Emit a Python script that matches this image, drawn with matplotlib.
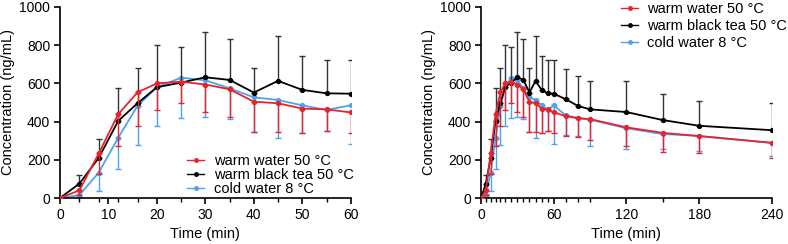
import matplotlib.pyplot as plt
from matplotlib.lines import Line2D
import numpy as np

plt.rcParams['font.family'] = ['Liberation Sans', 'DejaVu Sans']
plt.rcParams['font.size'] = 10

# Zeitpunkte (min)
zeit = [0, 4, 8, 12, 16, 20, 25, 30, 35, 40, 45, 50, 55, 60, 70, 80, 90, 120, 150, 180, 240]

# Mittelwerte (ng/mL)
warm_wasser = [0, 40, 233, 438, 553, 600, 609, 594, 569, 504, 496, 468, 464, 448, 429, 417, 413, 370, 341, 324, 289]
schwarztee = [0, 75, 210, 403, 496, 580, 604, 632, 618, 552, 613, 566, 548, 546, 517, 482, 464, 450, 408, 378, 355]
kalt_wasser = [0, 15, 133, 315, 482, 580, 630, 616, 574, 527, 513, 485, 461, 485, 432, 420, 410, 365, 335, 325, 288]

# Standardabweichungen
sd_warm_wasser = [0, 26, 109, 165, 178, 141, 112, 146, 147, 157, 149, 127, 112, 107, 105, 100, 107, 97, 99, 91, 82]
sd_schwarztee = [0, 44, 100, 173, 184, 219, 186, 237, 216, 129, 236, 178, 175, 176, 159, 154, 151, 163, 137, 132, 142]
sd_kalt_wasser = [0, 10, 96, 161, 202, 202, 211, 194, 162, 180, 198, 144, 109, 203, 100, 95, 137, 109, 80, 80, 70]

rot = '#e8232b'
blau = '#4ea3ec'

fig = plt.figure(figsize=(7.88, 2.44), dpi=100)
ax1 = fig.add_axes([0.0761, 0.1885, 0.369, 0.783])
ax2 = fig.add_axes([0.6104, 0.1885, 0.369, 0.783])

for ax, tmax in [(ax1, 60), (ax2, 240)]:
    n = sum(1 for t in zeit if t <= tmax)
    t = zeit[:n]
    null = np.zeros(n)
    ax.errorbar(t, kalt_wasser[:n], yerr=[sd_kalt_wasser[:n], null], color=blau, marker='o',
                markersize=2.8, lw=1.3, elinewidth=1.0, capsize=2.5, ecolor=blau, zorder=2)
    ax.errorbar(t, schwarztee[:n], yerr=[null, sd_schwarztee[:n]], color='black', marker='o',
                markersize=2.8, lw=1.3, elinewidth=1.0, capsize=2.5, ecolor='#333333', zorder=3)
    ax.errorbar(t, warm_wasser[:n], yerr=[sd_warm_wasser[:n], null], color=rot, marker='o',
                markersize=2.8, lw=1.3, elinewidth=1.0, capsize=2.5, ecolor=rot, zorder=4)

    ax.set_ylim(0, 1000)
    ax.set_xlim(0, tmax)
    ax.set_yticks(range(0, 1001, 200))
    ax.set_xticks(t, minor=True)
    ax.spines['top'].set_visible(False)
    ax.spines['right'].set_visible(False)
    ax.spines['left'].set_linewidth(1.2)
    ax.spines['bottom'].set_linewidth(1.2)
    ax.tick_params(width=1.2, length=4, pad=3)
    ax.tick_params(which='minor', width=1.0, length=3)
    ax.set_xlabel('Time (min)', labelpad=4, fontsize=10.5)
    ax.set_ylabel('Concentration (ng/mL)', labelpad=3, fontsize=10.5)
    for sp in ax.spines.values():
        sp.set_clip_on(False)

ax1.set_xticks(range(0, 61, 10))
ax2.set_xticks(range(0, 241, 60))

# Legenden
griffe = [Line2D([], [], color=rot, marker='o', markersize=2.5, lw=1.0),
          Line2D([], [], color='black', marker='o', markersize=2.5, lw=1.0),
          Line2D([], [], color=blau, marker='o', markersize=2.5, lw=1.0)]
namen = ['warm water 50 °C', 'warm black tea 50 °C', 'cold water 8 °C']

fig.legend(griffe, namen, loc='upper left', bbox_to_anchor=(0.2373, 0.368),
           frameon=False, handlelength=1.2, labelspacing=0.0, borderpad=0,
           borderaxespad=0, handletextpad=0.65, fontsize=10.5)
fig.legend(griffe, namen, loc='upper left', bbox_to_anchor=(0.788, 0.992),
           frameon=False, handlelength=1.2, labelspacing=0.22, borderpad=0,
           borderaxespad=0, handletextpad=0.6, fontsize=10.5)

plt.savefig('out.png', dpi=100)
